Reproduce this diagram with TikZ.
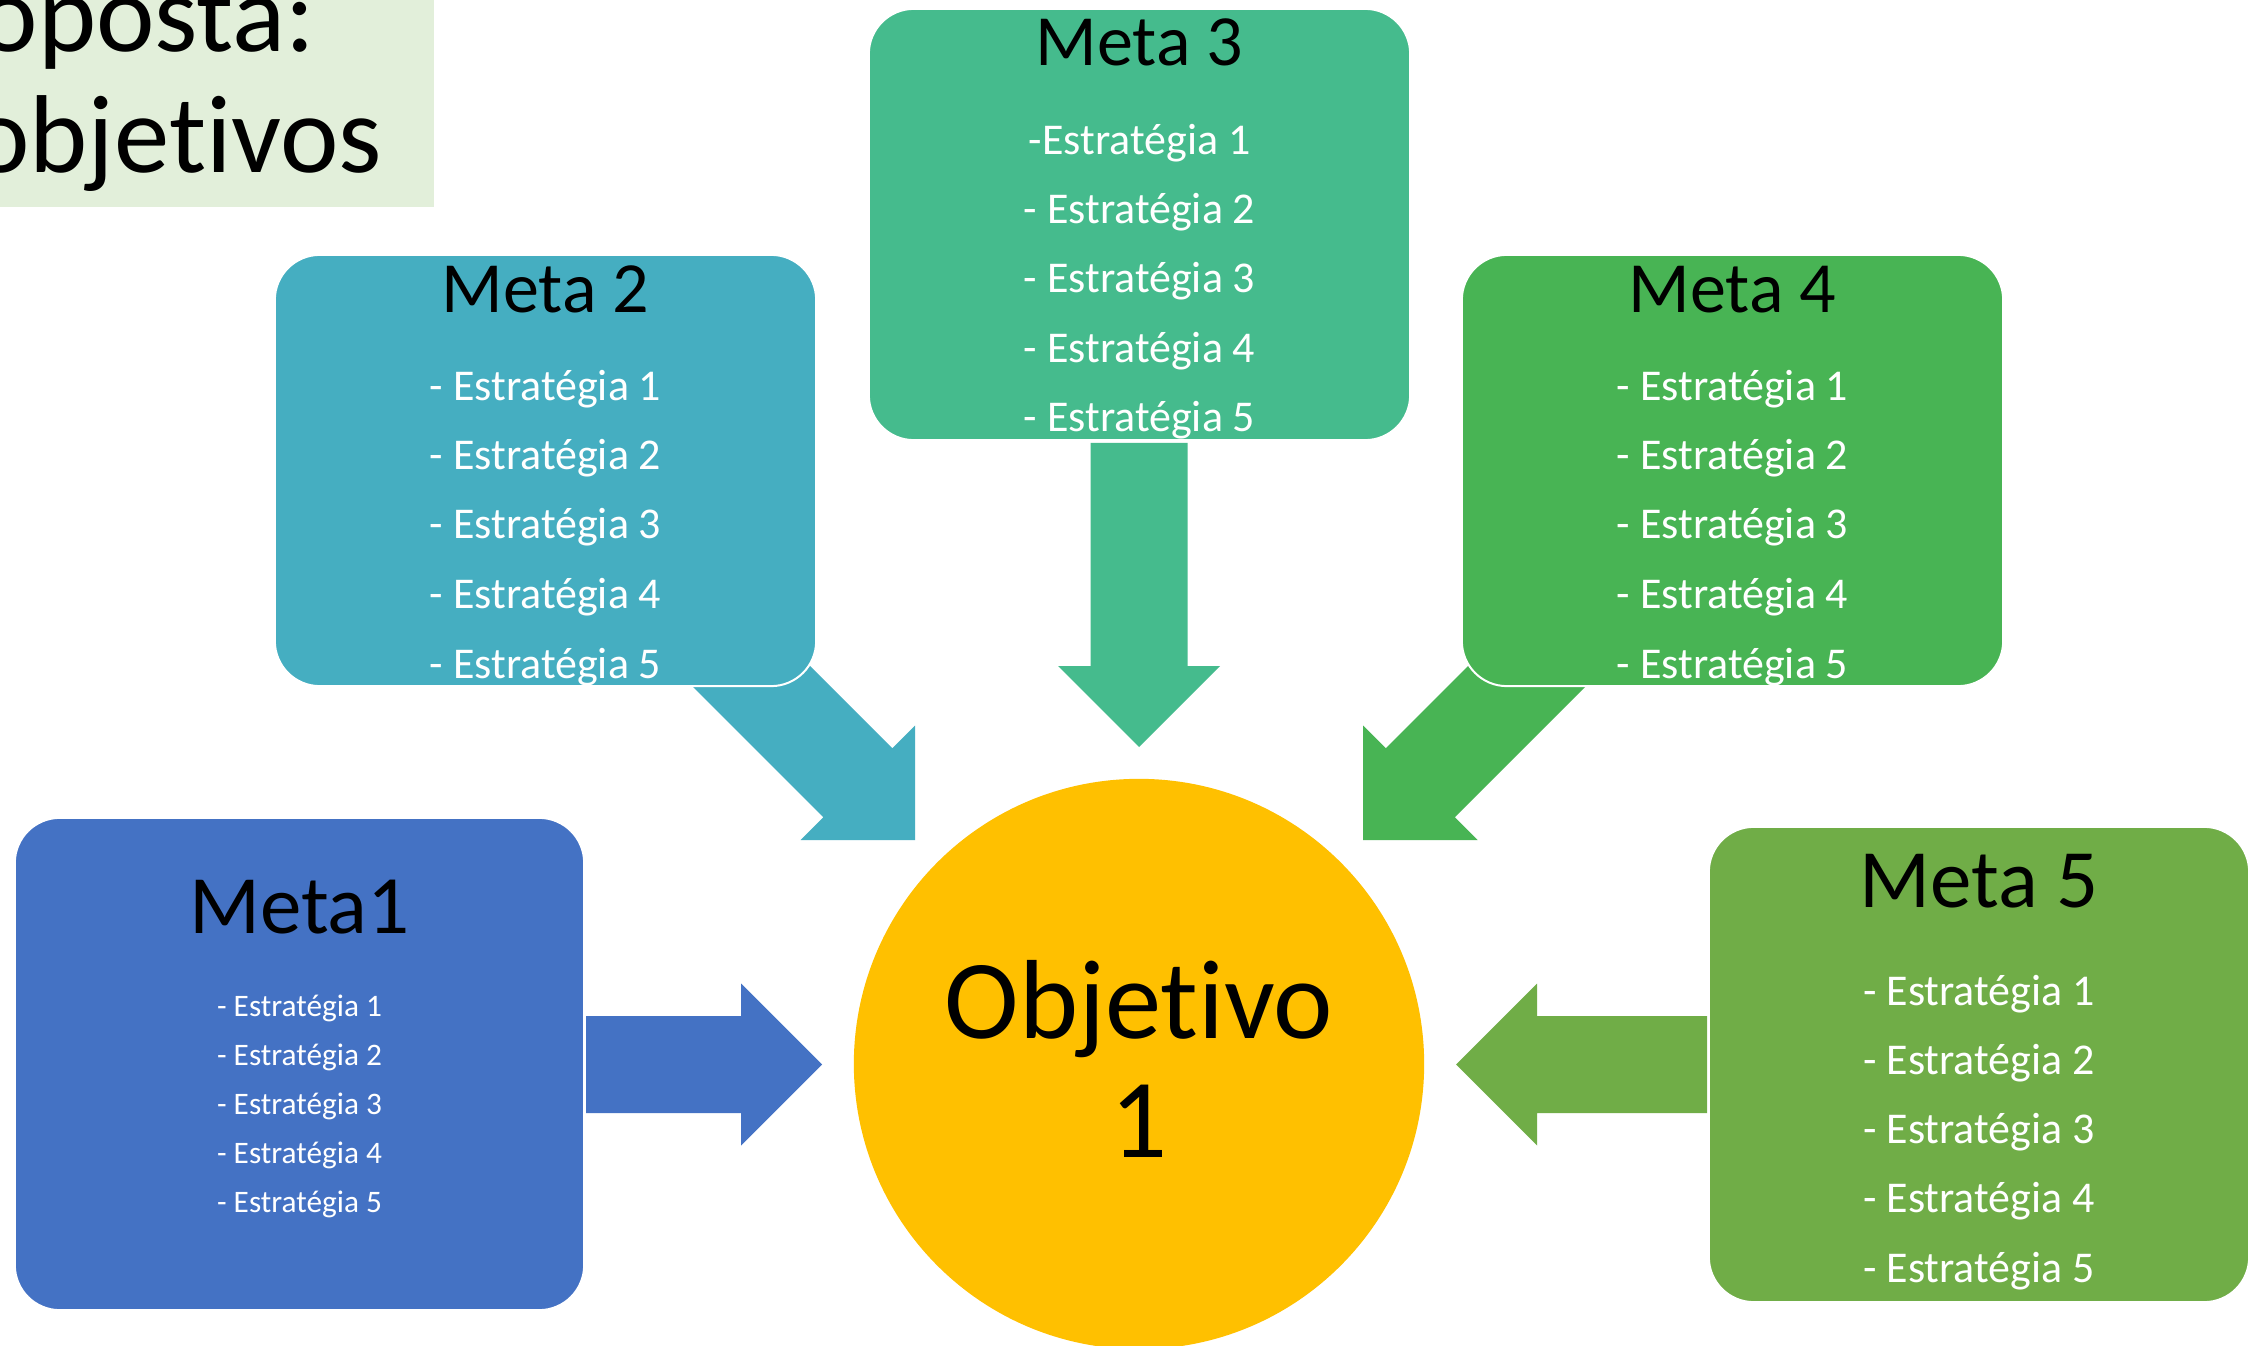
\documentclass[tikz,border=0pt]{standalone}
\usepackage{fontspec}
\setmainfont{Carlito}[Ligatures=NoCommon]
\definecolor{cOne}{HTML}{4472C4}
\definecolor{cTwo}{HTML}{45AEC1}
\definecolor{cThree}{HTML}{45BB8D}
\definecolor{cFour}{HTML}{48B454}
\definecolor{cFive}{HTML}{70AD47}
\definecolor{cGold}{HTML}{FFC000}
\definecolor{cTitle}{HTML}{E2EFDA}
\begin{document}
\begin{tikzpicture}[x=0.01cm,y=-0.01cm,
  metabox/.style={rounded corners=0.45cm, draw=white, line width=0.02cm, inner sep=0pt},
  bigtitle/.style={anchor=base, inner sep=0pt, text=black, font=\fontsize{20.5pt}{24pt}\selectfont},
  hugetitle/.style={anchor=base, inner sep=0pt, text=black, font=\fontsize{23.6pt}{28pt}\selectfont},
  item/.style={anchor=base, inner sep=0pt, text=white, font=\fontsize{12.5pt}{15pt}\selectfont},
  smallitem/.style={anchor=base, inner sep=0pt, text=white, font=\fontsize{8.9pt}{11pt}\selectfont},
  blockarrow/.style={draw=none}]
\useasboundingbox (0,0) rectangle (2260,1346);
\clip (0,0) rectangle (2260,1346);
\fill[white] (0,0) rectangle (2260,1346);

% title box
\fill[cTitle] (0,0) rectangle (434,207);
\node[anchor=base east, inner sep=0pt, font=\fontsize{31.5pt}{36pt}\selectfont] (tl1) at (316,52) {Proposta:};
\node[anchor=base east, inner sep=0pt, font=\fontsize{31.5pt}{36pt}\selectfont] (tl2) at (383,173) {objet\kern0pt ivos};

% block arrows (behind the boxes)
\fill[cTwo] (653,647) -- (722,578) -- (892.25,748.25) -- (915,725.5) -- (915,840) -- (800.5,840) -- (823.25,817.25) -- cycle;
\fill[cFour] (1625,647) -- (1556,578) -- (1385.75,748.25) -- (1363,725.5) -- (1363,840) -- (1477.5,840) -- (1454.75,817.25) -- cycle;
\fill[cThree] (1090.5,443) -- (1187.5,443) -- (1187.5,666) -- (1220,666) -- (1139,747) -- (1058,666) -- (1090.5,666) -- cycle;
\fill[cOne] (586,1016) -- (741,1016) -- (741,983.5) -- (822,1064.5) -- (741,1145.5) -- (741,1113) -- (586,1113) -- cycle;
\fill[cFive] (1707,1016) -- (1537,1016) -- (1537,983.5) -- (1456,1064.5) -- (1537,1145.5) -- (1537,1113) -- (1707,1113) -- cycle;

% boxes
\node[metabox, fill=cThree, minimum width=5.41cm, minimum height=4.31cm] (m3) at (1139.5,224.5) {};
\node[metabox, fill=cTwo, minimum width=5.41cm, minimum height=4.31cm] (m2) at (545.5,470.5) {};
\node[metabox, fill=cFour, minimum width=5.41cm, minimum height=4.31cm] (m4) at (1732.5,470.5) {};
\node[metabox, fill=cOne, minimum width=5.69cm, minimum height=4.92cm] (m1) at (299.5,1064) {};
\node[metabox, fill=cFive, minimum width=5.40cm, minimum height=4.75cm] (m5) at (1979,1064.5) {};
\node[circle, fill=cGold, inner sep=0pt, minimum size=5.70cm] (obj) at (1139,1064) {};

% texts
\node[bigtitle] (t3) at (1139.5,66) {Meta 3};
\node[item] at (1139.5,155) {-Estratégia 1};
\foreach \i/\y in {2/224,3/293,4/363,5/432} \node[item] at (1139.5,\y) {- Estratégia \i};

\node[bigtitle] (t2) at (545.5,313) {Meta 2};
\foreach \i/\y in {1/401,2/470,3/539,4/609,5/678} \node[item] at (545.5,\y) {- Estratégia \i};

\node[bigtitle] (t4) at (1732.5,313) {Meta 4};
\foreach \i/\y in {1/401,2/470,3/539,4/609,5/678} \node[item] at (1732.5,\y) {- Estratégia \i};

\node[hugetitle] (t1) at (299.5,933) {Meta1};
\foreach \i/\y in {1/1016,2/1065,3/1114,4/1163,5/1212} \node[smallitem] at (299.5,\y) {- Estratégia \i};

\node[hugetitle] (t5) at (1979,907) {Meta 5};
\foreach \i/\y in {1/1005,2/1074,3/1143,4/1212,5/1282} \node[item] at (1979,\y) {- Estratégia \i};

\node[anchor=base, inner sep=0pt, font=\fontsize{32pt}{38pt}\selectfont] (o1) at (1139,1038) {Objet\kern0pt ivo};
\node[anchor=base, inner sep=0pt, font=\fontsize{32pt}{38pt}\selectfont] (o2) at (1139,1157) {1};
\end{tikzpicture}
\end{document}
